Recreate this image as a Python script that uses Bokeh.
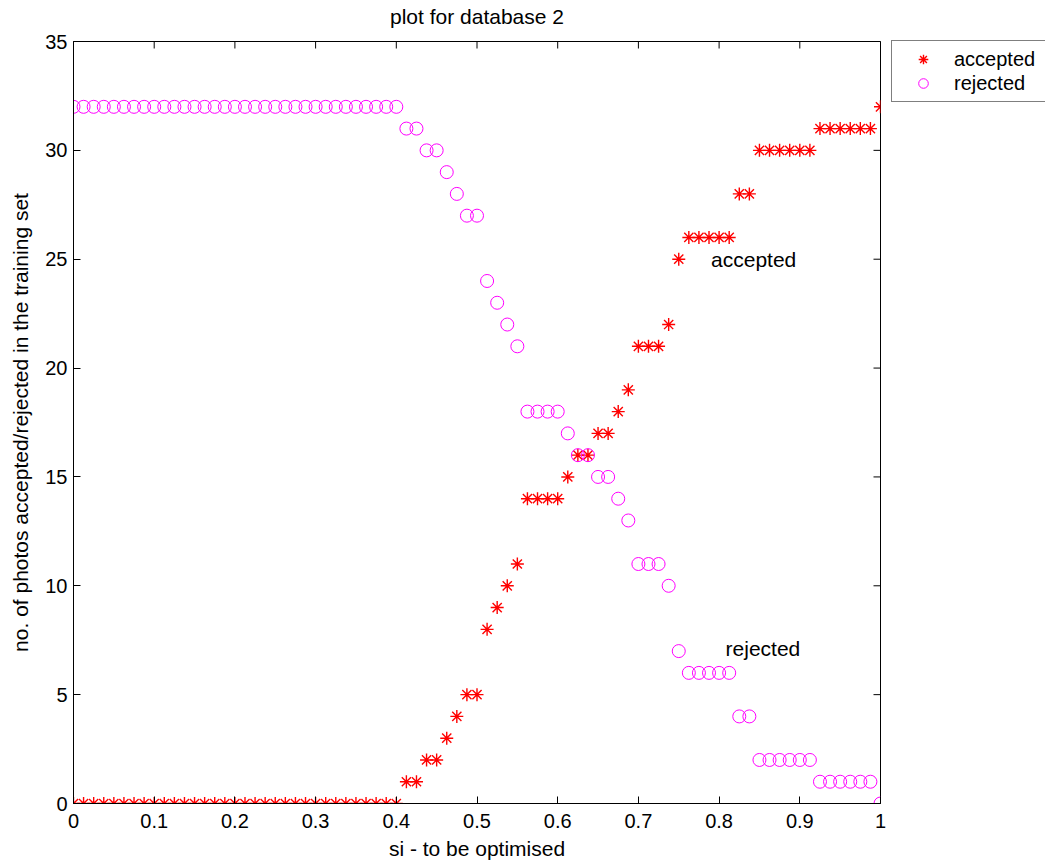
import math
from bokeh.plotting import figure
from bokeh.models import (Range1d, FixedTicker, Legend, LegendItem,
                          ColumnDataSource, LinearAxis)
from bokeh.core.properties import value
from bokeh.embed import file_html
from bokeh.resources import INLINE

# ---------------- data ----------------
si = [0.0, 0.0125, 0.025, 0.0375, 0.05, 0.0625, 0.075, 0.0875,
      0.1, 0.1125, 0.125, 0.1375, 0.15, 0.1625, 0.175, 0.1875,
      0.2, 0.2125, 0.225, 0.2375, 0.25, 0.2625, 0.275, 0.2875,
      0.3, 0.3125, 0.325, 0.3375, 0.35, 0.3625, 0.375, 0.3875,
      0.4, 0.4125, 0.425, 0.4375, 0.45, 0.4625, 0.475, 0.4875,
      0.5, 0.5125, 0.525, 0.5375, 0.55, 0.5625, 0.575, 0.5875,
      0.6, 0.6125, 0.625, 0.6375, 0.65, 0.6625, 0.675, 0.6875,
      0.7, 0.7125, 0.725, 0.7375, 0.75, 0.7625, 0.775, 0.7875,
      0.8, 0.8125, 0.825, 0.8375, 0.85, 0.8625, 0.875, 0.8875,
      0.9, 0.9125, 0.925, 0.9375, 0.95, 0.9625, 0.975, 0.9875,
      1.0]

accepted = [0, 0, 0, 0, 0, 0, 0, 0,
            0, 0, 0, 0, 0, 0, 0, 0,
            0, 0, 0, 0, 0, 0, 0, 0,
            0, 0, 0, 0, 0, 0, 0, 0,
            0, 1, 1, 2, 2, 3, 4, 5,
            5, 8, 9, 10, 11, 14, 14, 14,
            14, 15, 16, 16, 17, 17, 18, 19,
            21, 21, 21, 22, 25, 26, 26, 26,
            26, 26, 28, 28, 30, 30, 30, 30,
            30, 30, 31, 31, 31, 31, 31, 31,
            32]

rejected = [32, 32, 32, 32, 32, 32, 32, 32,
            32, 32, 32, 32, 32, 32, 32, 32,
            32, 32, 32, 32, 32, 32, 32, 32,
            32, 32, 32, 32, 32, 32, 32, 32,
            32, 31, 31, 30, 30, 29, 28, 27,
            27, 24, 23, 22, 21, 18, 18, 18,
            18, 17, 16, 16, 15, 15, 14, 13,
            11, 11, 11, 10, 7, 6, 6, 6,
            6, 6, 4, 4, 2, 2, 2, 2,
            2, 2, 1, 1, 1, 1, 1, 1,
            0]

x_ticks = [0, 0.1, 0.2, 0.3, 0.4, 0.5, 0.6, 0.7, 0.8, 0.9, 1]
x_tick_labels = ["0", "0.1", "0.2", "0.3", "0.4", "0.5", "0.6", "0.7", "0.8", "0.9", "1"]
y_ticks = [0, 5, 10, 15, 20, 25, 30, 35]
y_tick_labels = ["0", "5", "10", "15", "20", "25", "30", "35"]
x_min, x_max = 0, 1
y_min, y_max = 0, 35

series_names = ["accepted", "rejected"]
annot_x = [0.79, 0.808]
annot_y = [25, 7.1]
annot_text = ["accepted", "rejected"]

title_text = "plot for database 2"
x_label = "si - to be optimised"
y_label = "no. of photos accepted/rejected in the training set"

FONT = "Liberation Sans"

# ---------------- figure ----------------
p = figure(frame_width=807, frame_height=762,
           x_range=Range1d(x_min, x_max), y_range=Range1d(y_min, y_max),
           min_border_left=73, min_border_right=0,
           min_border_top=41, min_border_bottom=60,
           output_backend="svg", toolbar_location=None)
p.background_fill_color = "white"
p.border_fill_color = "white"
p.outline_line_color = "black"
p.outline_line_width = 1
p.grid.visible = False

p.xaxis.axis_label = x_label
p.yaxis.axis_label = y_label

p.xaxis.ticker = FixedTicker(ticks=x_ticks)
p.yaxis.ticker = FixedTicker(ticks=y_ticks)
p.xaxis.major_label_overrides = {t: l for t, l in zip(x_ticks, x_tick_labels)}
p.yaxis.major_label_overrides = {t: l for t, l in zip(y_ticks, y_tick_labels)}

for ax in (p.xaxis[0], p.yaxis[0]):
    ax.axis_line_color = "black"
    ax.major_tick_line_color = "black"
    ax.major_tick_in = 7
    ax.major_tick_out = 0
    ax.minor_tick_line_color = None
    ax.major_label_text_font = FONT
    ax.major_label_text_font_size = "20px"
    ax.major_label_text_color = "black"
    ax.axis_label_text_font = FONT
    ax.axis_label_text_font_size = "21px"
    ax.axis_label_text_font_style = "normal"
    ax.axis_label_text_color = "black"

p.xaxis.major_label_standoff = 10
p.xaxis.axis_label_standoff = 6
p.yaxis.major_label_standoff = 6
p.yaxis.axis_label_standoff = 10

# title drawn as the label of a tick-less axis above the frame
top_ax = LinearAxis(ticker=FixedTicker(ticks=[]), axis_label=title_text)
top_ax.axis_line_color = None
top_ax.major_tick_line_color = None
top_ax.minor_tick_line_color = None
top_ax.major_tick_in = 0
top_ax.major_tick_out = 0
top_ax.major_label_standoff = 0
top_ax.axis_label_standoff = 14
top_ax.axis_label_text_font = FONT
top_ax.axis_label_text_font_size = "21px"
top_ax.axis_label_text_font_style = "normal"
top_ax.axis_label_text_color = "black"
p.add_layout(top_ax, "above")

# mirrored tick marks on top and right edges (half of each dash is clipped by the frame)
p.scatter(x=x_ticks, y=[y_max] * len(x_ticks), marker="dash", size=14,
          angle=math.pi / 2, line_color="black", line_width=1)
p.scatter(x=[x_max] * len(y_ticks), y=y_ticks, marker="dash", size=14,
          line_color="black", line_width=1)

src = ColumnDataSource(dict(si=si, accepted=accepted, rejected=rejected))

r_acc = p.scatter(x="si", y="accepted", source=src, marker="asterisk",
                  size=13, line_color="#FF0000", line_width=1.4)
r_rej = p.scatter(x="si", y="rejected", source=src, marker="circle",
                  size=13, fill_color=None, line_color="#FF00FF", line_width=1)

tsrc = ColumnDataSource(dict(x=annot_x, y=annot_y, text=annot_text))
p.text(x="x", y="y", text="text", source=tsrc, text_align="left",
       text_baseline="middle", text_font=value(FONT), text_font_size="21px",
       text_color="black")

legend = Legend(items=[LegendItem(label=series_names[0], renderers=[r_acc]),
                       LegendItem(label=series_names[1], renderers=[r_rej])],
                location=(11, 701))
legend.margin = 0
legend.padding = 6
legend.spacing = 0
legend.glyph_width = 50
legend.glyph_height = 24
legend.label_height = 24
legend.label_width = 90
legend.label_standoff = 6
legend.label_text_font = FONT
legend.label_text_font_size = "20px"
legend.label_text_color = "black"
legend.border_line_color = "black"
legend.border_line_width = 1
legend.background_fill_color = "white"
legend.background_fill_alpha = 1
p.add_layout(legend, "right")

open("out.html", "w").write(file_html(p, INLINE))
